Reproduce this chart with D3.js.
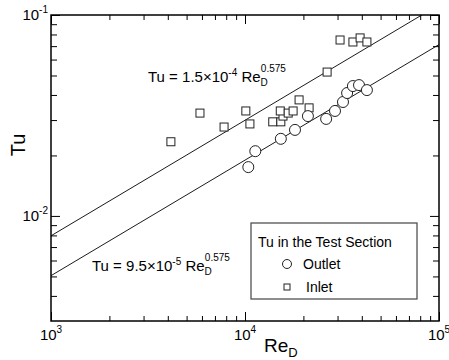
<!DOCTYPE html>
<html>
<head>
<meta charset="utf-8">
<script src="https://cdn.jsdelivr.net/npm/d3@7"></script>
<style>
  body { margin: 0; background: #fff; }
  text { font-family: "Liberation Sans", Arial, sans-serif; fill: #000; }
</style>
</head>
<body>
<div id="chart"></div>
<script>
// Data
const outletRe = [10400, 11300, 15300, 18100, 21100, 26200, 29100, 32000, 33600, 36000, 38700, 42500];
const outletTu = [0.0175, 0.021, 0.0242, 0.0268, 0.0314, 0.0304, 0.0333, 0.0369, 0.0409, 0.0443, 0.0448, 0.0423];

const inletRe = [4150, 5860, 7800, 10100, 10600, 13900, 15300, 15700, 15200, 16700, 17700, 19000, 21400, 26500, 30900, 36000, 39200, 42500];
const inletTu = [0.0234, 0.0325, 0.0277, 0.0333, 0.0287, 0.0294, 0.0294, 0.0314, 0.0333, 0.0325, 0.0333, 0.0378, 0.0345, 0.052, 0.0751, 0.0734, 0.0769, 0.0734];

// fit lines Tu = c * Re^n
const fitCoef = [1.5e-4, 9.5e-5];
const fitExp = 0.575;

const xDecades = [1e3, 1e4, 1e5];
const xDecadeExp = ['3', '4', '5'];
const yDecades = [1e-2, 1e-1];
const yDecadeExp = ['-2', '-1'];

const W = 449, H = 360;
const margin = { top: 15, right: 10, bottom: 39, left: 51 };
const width = W - margin.left - margin.right;
const height = H - margin.top - margin.bottom;

const svg = d3.select('#chart').append('svg')
  .attr('width', W)
  .attr('height', H);

const g = svg.append('g')
  .attr('transform', `translate(${margin.left},${margin.top})`);

const x = d3.scaleLog().domain([1e3, 1e5]).range([0, width]);
const y = d3.scaleLog().domain([3e-3, 1e-1]).range([height, 0]);

// minor ticks 2..9 in each decade
const minorX = [];
[1e3, 1e4].forEach(d => { for (let k = 2; k <= 9; k++) minorX.push(d * k); });
const minorY = [];
[1e-3, 1e-2].forEach(d => { for (let k = 2; k <= 9; k++) { const v = d * k; if (v > 3.01e-3) minorY.push(v); } });

function tickAxis(axisFn, scale, values, size, transform) {
  const a = g.append('g')
    .attr('transform', transform)
    .call(axisFn(scale).tickValues(values).tickSize(-size).tickFormat(''));
  a.select('.domain').remove();
  a.selectAll('line').attr('stroke', '#000').attr('stroke-width', 1);
}

// inward ticks on all four sides
tickAxis(d3.axisBottom, x, minorX, 5, `translate(0,${height})`);
tickAxis(d3.axisBottom, x, xDecades, 9, `translate(0,${height})`);
tickAxis(d3.axisTop, x, minorX, 5, 'translate(0,0)');
tickAxis(d3.axisTop, x, xDecades, 9, 'translate(0,0)');
tickAxis(d3.axisLeft, y, minorY, 6, 'translate(0,0)');
tickAxis(d3.axisLeft, y, yDecades, 9, 'translate(0,0)');
tickAxis(d3.axisRight, y, minorY, 6, `translate(${width},0)`);
tickAxis(d3.axisRight, y, yDecades, 9, `translate(${width},0)`);

// frame
g.append('rect')
  .attr('width', width)
  .attr('height', height)
  .attr('fill', 'none')
  .attr('stroke', '#000')
  .attr('stroke-width', 1.5);

// tick labels with superscripts
xDecades.forEach((d, i) => {
  const t = g.append('text')
    .attr('x', x(d))
    .attr('y', height + 19)
    .attr('text-anchor', 'middle')
    .style('font-size', '15px');
  t.append('tspan').text('10');
  t.append('tspan').attr('dy', -7).style('font-size', '10px').text(xDecadeExp[i]);
});
yDecades.forEach((d, i) => {
  const t = g.append('text')
    .attr('x', -3)
    .attr('y', y(d) + 5)
    .attr('text-anchor', 'end')
    .style('font-size', '15px');
  t.append('tspan').text('10');
  t.append('tspan').attr('dy', -7).style('font-size', '10px').text(yDecadeExp[i]);
});

// axis titles
const xt = svg.append('text')
  .attr('x', 264)
  .attr('y', 352)
  .style('font-size', '19px');
xt.append('tspan').text('Re');
xt.append('tspan').attr('dy', 5).style('font-size', '13px').text('D');

svg.append('text')
  .attr('transform', 'translate(25,145) rotate(-90)')
  .attr('text-anchor', 'middle')
  .style('font-size', '20px')
  .text('Tu');

// clip for fit lines
svg.append('clipPath').attr('id', 'plotClip')
  .append('rect').attr('width', width).attr('height', height);

const line = d3.line()
  .x(d => x(d[0]))
  .y(d => y(d[1]));

fitCoef.forEach(c => {
  const pts = xDecades.map(re => [re, c * Math.pow(re, fitExp)]);
  g.append('path')
    .datum(pts)
    .attr('d', line)
    .attr('clip-path', 'url(#plotClip)')
    .attr('fill', 'none')
    .attr('stroke', '#000')
    .attr('stroke-width', 0.9);
});

// equation labels
function eqLabel(px, py, coef, exp) {
  const t = g.append('text')
    .attr('x', px)
    .attr('y', py)
    .style('font-size', '15px');
  t.append('tspan').text('Tu = ' + coef + '\u00d710');
  t.append('tspan').attr('dy', -6).style('font-size', '10px').text(exp);
  t.append('tspan').attr('dy', 6).text(' Re');
  t.append('tspan').attr('dy', 4).style('font-size', '10px').text('D');
  t.append('tspan').attr('dx', -7).attr('dy', -14).style('font-size', '10px').text(fitExp);
}
eqLabel(97, 67, '1.5', '-4');
eqLabel(41, 256, '9.5', '-5');

// points
const inletData = inletRe.map((re, i) => [re, inletTu[i]]);
const outletData = outletRe.map((re, i) => [re, outletTu[i]]);
const sq = 8;

g.selectAll('.inlet')
  .data(inletData)
  .enter()
  .append('rect')
  .attr('class', 'inlet')
  .attr('x', d => x(d[0]) - sq / 2)
  .attr('y', d => y(d[1]) - sq / 2)
  .attr('width', sq)
  .attr('height', sq)
  .attr('fill', '#fff')
  .attr('stroke', '#222')
  .attr('stroke-width', 1);

g.selectAll('.outlet')
  .data(outletData)
  .enter()
  .append('circle')
  .attr('class', 'outlet')
  .attr('cx', d => x(d[0]))
  .attr('cy', d => y(d[1]))
  .attr('r', 5.5)
  .attr('fill', '#fff')
  .attr('stroke', '#222')
  .attr('stroke-width', 1);

// legend
const lg = g.append('g').attr('transform', `translate(${200},${208})`);
lg.append('rect')
  .attr('width', 166)
  .attr('height', 76)
  .attr('fill', '#fff')
  .attr('stroke', '#444')
  .attr('stroke-width', 1.2);
lg.append('text')
  .attr('x', 7)
  .attr('y', 24)
  .style('font-size', '14px')
  .text('Tu in the Test Section');
lg.append('circle')
  .attr('cx', 36).attr('cy', 41).attr('r', 4.5)
  .attr('fill', '#fff').attr('stroke', '#222');
lg.append('text')
  .attr('x', 52).attr('y', 46)
  .style('font-size', '14px')
  .text('Outlet');
lg.append('rect')
  .attr('x', 33).attr('y', 61).attr('width', 6).attr('height', 6)
  .attr('fill', '#fff').attr('stroke', '#222');
lg.append('text')
  .attr('x', 55).attr('y', 69)
  .style('font-size', '14px')
  .text('Inlet');
</script>
</body>
</html>
